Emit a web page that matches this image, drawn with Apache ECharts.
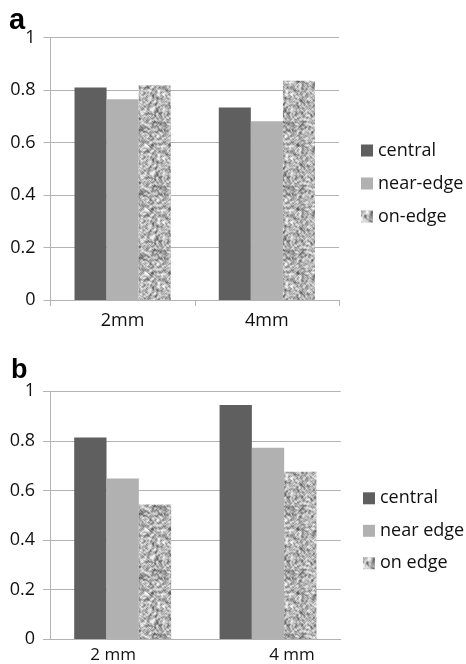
<!DOCTYPE html>
<html>
<head>
<meta charset="utf-8">
<style>
  html, body { margin: 0; padding: 0; background: #fff; }
  #chart { width: 466px; height: 664px; }
</style>
<script src="https://cdn.jsdelivr.net/npm/echarts@6/dist/echarts.min.js"></script>
</head>
<body>
<div id="chart"></div>
<script>
// ---- Data ----
const categoriesA = ['2mm', '4mm'];
const centralA = [0.81, 0.733];
const nearEdgeA = [0.765, 0.681];
const onEdgeA = [0.818, 0.835];
const seriesNamesA = ['central', 'near-edge', 'on-edge'];

const categoriesB = ['2 mm', '4 mm'];
const centralB = [0.813, 0.945];
const nearEdgeB = [0.648, 0.772];
const onEdgeB = [0.543, 0.675];
const seriesNamesB = ['central', 'near edge', 'on edge'];

const yMin = 0, yMax = 1, yStep = 0.2;

// ---- Styles ----
const FONT = 'Open Sans';
const DARK = '#5f5f5f';
const LIGHT = '#b1b1b1';
const GRID = '#b3b3b3';

// speckled texture for the "on edge" bars (pure styling, deterministic)
function makeTexture() {
  const n = 64;
  const c = document.createElement('canvas');
  c.width = n; c.height = n;
  const ctx = c.getContext('2d');
  let s = 987654;
  function rnd() { s = (s * 1103515245 + 12345) & 0x7fffffff; return s / 0x7fffffff; }
  const raw = new Float32Array(n * n);
  for (let i = 0; i < n * n; i++) raw[i] = rnd();
  const sm = new Float32Array(n * n);
  let lo = 1, hi = 0;
  for (let y = 0; y < n; y++) {
    for (let x = 0; x < n; x++) {
      let acc = 0, w = 0;
      for (let dy = -1; dy <= 1; dy++) {
        for (let dx = -1; dx <= 1; dx++) {
          const ww = (dx === 0 && dy === 0) ? 4 : 1;
          acc += raw[((y + dy + n) % n) * n + ((x + dx + n) % n)] * ww;
          w += ww;
        }
      }
      const v = acc / w;
      sm[y * n + x] = v;
      if (v < lo) lo = v;
      if (v > hi) hi = v;
    }
  }
  const img = ctx.createImageData(n, n);
  for (let i = 0; i < n * n; i++) {
    let t = (sm[i] - lo) / (hi - lo);
    t = Math.min(1, Math.max(0, (t - 0.5) * 1.3 + 0.55));
    const v = Math.round(95 + Math.pow(t, 0.8) * 150);
    img.data[i * 4] = v; img.data[i * 4 + 1] = v; img.data[i * 4 + 2] = v; img.data[i * 4 + 3] = 255;
  }
  ctx.putImageData(img, 0, 0);
  return c;
}
const texture = { image: makeTexture(), repeat: 'repeat' };

const chart = echarts.init(document.getElementById('chart'), null, { renderer: 'canvas' });

function yAxis(gridIndex) {
  return {
    type: 'value', gridIndex, min: yMin, max: yMax, interval: yStep,
    axisLine: { show: true, lineStyle: { color: GRID, width: 1 } },
    axisTick: { show: true, length: 7, lineStyle: { color: GRID } },
    splitLine: { show: true, lineStyle: { color: GRID, width: 1 } },
    axisLabel: { color: '#111', fontFamily: FONT, fontSize: 18, margin: 15 }
  };
}

function bar(name, data, xi, color) {
  return {
    name, type: 'bar', xAxisIndex: xi, yAxisIndex: xi, data,
    barGap: '0%', barCategoryGap: '33.3%',
    itemStyle: { color },
    emphasis: { disabled: true },
    animation: false
  };
}

const option = {
  animation: false,
  backgroundColor: '#fff',
  grid: [
    { left: 50.5, top: 37.5, width: 288.5, height: 262.5 },
    { left: 50, top: 391.3, width: 290.7, height: 250.4 }
  ],
  xAxis: [
    {
      type: 'category', gridIndex: 0, data: categoriesA,
      axisLine: { lineStyle: { color: GRID } },
      axisTick: { show: true, length: 6, lineStyle: { color: GRID } },
      axisLabel: { color: '#111', fontFamily: FONT, fontSize: 18, margin: 12 }
    },
    {
      type: 'category', gridIndex: 1, data: categoriesB,
      axisLine: { lineStyle: { color: GRID } },
      axisTick: { show: false },
      axisLabel: {
        color: '#111', fontFamily: FONT, fontSize: 17, margin: 8,
        formatter: function (v, i) { return i === 0 ? '{l|' + v + '}' : '{r|' + v + '}'; },
        rich: {
          l: { fontFamily: FONT, fontSize: 17, color: '#111', padding: [0, 19, 0, 0] },
          r: { fontFamily: FONT, fontSize: 17, color: '#111', padding: [0, 0, 0, 48] }
        }
      }
    }
  ],
  yAxis: [yAxis(0), yAxis(1)],
  legend: [
    {
      data: seriesNamesA, orient: 'vertical', left: 361, top: 141.5, padding: 0,
      itemWidth: 12, itemHeight: 12, itemGap: 15, icon: 'rect',
      textStyle: { fontFamily: FONT, fontSize: 18, color: '#111' },
      selectedMode: false
    },
    {
      data: seriesNamesB, orient: 'vertical', left: 363, top: 489.3, padding: 0,
      itemWidth: 12, itemHeight: 12, itemGap: 14.5, icon: 'rect',
      textStyle: { fontFamily: FONT, fontSize: 18, color: '#111' },
      selectedMode: false
    }
  ],
  graphic: [
    { type: 'text', left: 9, top: 6, style: { text: 'a', font: 'bold 29px "Liberation Sans"', fill: '#000' } },
    { type: 'text', left: 11, top: 357, style: { text: 'b', font: 'bold 27px "Liberation Sans"', fill: '#000' } }
  ],
  series: [
    bar(seriesNamesA[0], centralA, 0, DARK),
    bar(seriesNamesA[1], nearEdgeA, 0, LIGHT),
    bar(seriesNamesA[2], onEdgeA, 0, texture),
    bar(seriesNamesB[0], centralB, 1, DARK),
    bar(seriesNamesB[1], nearEdgeB, 1, LIGHT),
    bar(seriesNamesB[2], onEdgeB, 1, texture)
  ]
};
chart.setOption(option);
</script>
</body>
</html>
